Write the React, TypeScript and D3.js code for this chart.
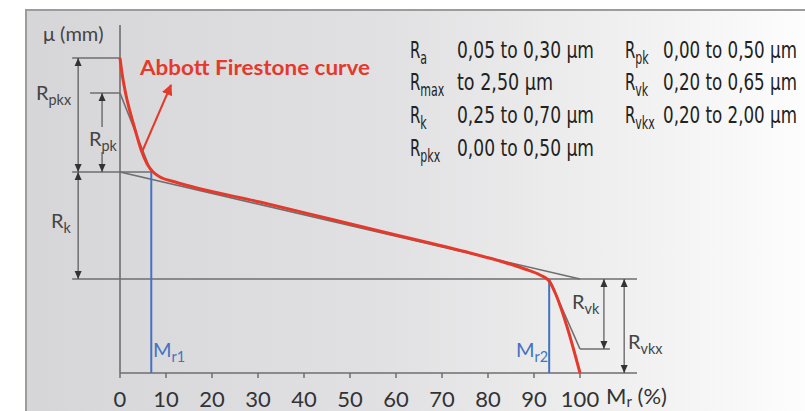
import React, { useEffect, useRef } from 'react';
import * as d3 from 'd3';

// bearing ratio (Abbott Firestone) curve, material ratio in % vs. height level
const curvePct = [0, 0.43, 1.3, 2.2, 3.3, 4.6, 5.9, 7.2, 8.7, 12.0, 15.9, 30.4, 45.7, 60.9, 76.1, 82.6, 88.0, 91.3, 93.3, 94.8, 97.2, 100];
const curveLevel = [3.15, 3.0, 2.78, 2.61, 2.43, 2.23, 2.09, 2.01, 1.96, 1.91, 1.86, 1.71, 1.54, 1.37, 1.2, 1.12, 1.04, 0.98, 0.92, 0.78, 0.46, 0];
const pctTicks = [0, 10, 20, 30, 40, 50, 60, 70, 80, 90, 100];

// characteristic levels
const levelTop = 3.15;
const levelRpk = 2.8;
const levelRkTop = 2.01;
const levelRkBottom = 0.94;
const levelRvk = 0.24;
const mr1 = 6.8;
const mr2 = 93.3;

// spec table
const specNames = ['a', 'max', 'k', 'pkx', 'pk', 'vk', 'vkx'];
const specValues = ['0,05 to 0,30 µm', 'to 2,50 µm', '0,25 to 0,70 µm', '0,00 to 0,50 µm', '0,00 to 0,50 µm', '0,20 to 0,65 µm', '0,20 to 2,00 µm'];

const W = 805;
const H = 411;
const grey = '#6e6e6e';
const red = '#e5392b';
const blue = '#4472c0';
const labelFont = 'Lato, "DejaVu Sans", sans-serif';
const condFont = '"Liberation Sans Narrow", "DejaVu Sans Condensed", "DejaVu Sans", sans-serif';

const x = d3.scaleLinear().domain([0, 100]).range([120, 580]);
const y = d3.scaleLinear().domain([0, 3.5]).range([373, 23]);

const arrowHead = (px: number, py: number, up: boolean) => {
  const d = up ? 8 : -8;
  return `M${px},${py} L${px - 3.5},${py + d} L${px + 3.5},${py + d} Z`;
};

const Sub = ({ x0, y0, main, sub, fill, size = 20 }: any) => (
  <text x={x0} y={y0} fontFamily={labelFont} fontSize={size} fill={fill}>
    {main}
    <tspan fontSize={size * 0.72} dy={5}>{sub}</tspan>
  </text>
);

export default function App() {
  const svgRef = useRef<SVGSVGElement>(null);

  // squeeze the spec values to the condensed width of the original
  useEffect(() => {
    d3.select(svgRef.current)
      .selectAll<SVGTextElement, unknown>('.spec-val')
      .each(function () {
        const el = d3.select(this);
        const w = this.getComputedTextLength();
        const target = +el.attr('data-len');
        const k = w > 0 ? target / w : 0.72;
        el.attr('transform', `translate(${el.attr('data-x')},${el.attr('data-y')}) scale(${k},1)`);
      });
  }, []);

  const pts = curvePct.map((p, i) => [p, curveLevel[i]] as [number, number]);
  const line = d3
    .line<[number, number]>()
    .x((d) => x(d[0]))
    .y((d) => y(d[1]))
    .curve(d3.curveMonotoneX);

  const hl = (l: number, p0: number, p1: number) => (
    <line x1={x(p0)} x2={x(p1)} y1={y(l)} y2={y(l)} stroke={grey} strokeWidth={1.5} />
  );
  const vArrow = (p: number, l0: number, l1: number, gap?: [number, number]) => (
    <g>
      {gap ? (
        <>
          <line x1={x(p)} x2={x(p)} y1={y(l0)} y2={gap[0]} stroke="#555" strokeWidth={1.2} />
          <line x1={x(p)} x2={x(p)} y1={gap[1]} y2={y(l1)} stroke="#555" strokeWidth={1.2} />
        </>
      ) : (
        <line x1={x(p)} x2={x(p)} y1={y(l0)} y2={y(l1)} stroke="#555" strokeWidth={1.2} />
      )}
      <path d={arrowHead(x(p), y(l0), true)} fill="#333" />
      <path d={arrowHead(x(p), y(l1), false)} fill="#333" />
    </g>
  );

  const rowY = [58, 90, 123, 156];
  const specPos = specNames.map((_, i) =>
    i < 4 ? { rx: 410, vx: 457, by: rowY[i], len: 137 } : { rx: 625, vx: 663, by: rowY[i - 4], len: 134 }
  );

  return (
    <svg ref={svgRef} width={W} height={H} style={{ position: 'absolute', left: 0, top: 0 }}>
      <defs>
        <linearGradient id="bg" x1="0" x2="1" y1="0" y2="0">
          <stop offset="0" stopColor="#d6d6d8" />
          <stop offset="0.45" stopColor="#e1e1e3" />
          <stop offset="0.8" stopColor="#f3f3f3" />
          <stop offset="1" stopColor="#ffffff" />
        </linearGradient>
        <marker id="head" viewBox="0 0 10 10" refX="9" refY="5" markerWidth="11" markerHeight="11" markerUnits="userSpaceOnUse" orient="auto">
          <path d="M0,0 L10,5 L0,10 Z" fill={red} />
        </marker>
      </defs>
      <rect x={0} y={0} width={W} height={H} fill="#fff" />
      <rect x={26} y={10} width={W} height={H} fill="url(#bg)" stroke="#9c9c9c" strokeWidth={2} />

      {/* guide lines */}
      {hl(levelTop, -10.4, 0)}
      {hl(levelRpk, -6.5, 0)}
      {hl(levelRkTop, -10.4, mr1)}
      {hl(levelRkBottom, -10.4, 112.4)}
      {hl(levelRvk, 100, 106.5)}

      {/* equivalent straight line and triangles */}
      <line x1={x(0)} y1={y(levelRkTop)} x2={x(100)} y2={y(levelRkBottom)} stroke={grey} strokeWidth={1.6} />
      <line x1={x(0)} y1={y(levelRpk)} x2={x(mr1)} y2={y(levelRkTop)} stroke={grey} strokeWidth={1.6} />
      <line x1={x(mr2)} y1={y(levelRkBottom)} x2={x(100)} y2={y(levelRvk)} stroke={grey} strokeWidth={1.6} />

      {/* axes */}
      <line x1={x(0)} x2={x(0)} y1={y(3.48)} y2={y(0)} stroke={grey} strokeWidth={1.6} />
      <line x1={x(0)} x2={x(112.4)} y1={y(0)} y2={y(0)} stroke={grey} strokeWidth={1.6} />
      {pctTicks.map((t) => (
        <g key={t}>
          <line x1={x(t)} x2={x(t)} y1={y(0)} y2={y(0) + 5} stroke={grey} strokeWidth={1.5} />
          <text x={x(t)} y={407} textAnchor="middle" fontFamily={labelFont} fontSize={22} fill="#333">
            {t}
          </text>
        </g>
      ))}
      <text x={606} y={404} fontFamily={labelFont} fontSize={22} fill="#333">
        M<tspan fontSize={15} dy={3}>r</tspan>
        <tspan dy={-3}> (%)</tspan>
      </text>
      <text x={43} y={41} fontFamily={labelFont} fontSize={20} fill="#444">μ (mm)</text>

      {/* dimension arrows */}
      {vArrow(-9.1, levelTop, levelRkTop)}
      {vArrow(-9.1, levelRkTop, levelRkBottom)}
      {vArrow(-3.9, levelRpk, levelRkTop, [127, 152])}
      {vArrow(105.2, levelRkBottom, levelRvk)}
      {vArrow(109.6, levelRkBottom, 0)}

      <Sub x0={36} y0={100} main="R" sub="pkx" fill="#444" />
      <Sub x0={89} y0={146} main="R" sub="pk" fill="#444" />
      <Sub x0={51} y0={228} main="R" sub="k" fill="#444" />
      <Sub x0={572} y0={309} main="R" sub="vk" fill="#444" />
      <Sub x0={628} y0={349} main="R" sub="vkx" fill="#444" />

      {/* material ratio markers */}
      <line x1={x(mr1)} x2={x(mr1)} y1={y(levelRkTop)} y2={y(0)} stroke={blue} strokeWidth={2} />
      <line x1={x(mr2)} x2={x(mr2)} y1={y(levelRkBottom)} y2={y(0)} stroke={blue} strokeWidth={2} />
      <Sub x0={153} y0={357} main="M" sub="r1" fill={blue} />
      <Sub x0={516} y0={357} main="M" sub="r2" fill={blue} />

      {/* curve */}
      <path d={line(pts) ?? ''} fill="none" stroke={red} strokeWidth={3} strokeLinejoin="round" />
      <line x1={142} y1={152} x2={171} y2={85} stroke={red} strokeWidth={2} markerEnd="url(#head)" />
      <text x={140} y={75} fontFamily={labelFont} fontWeight={700} fontSize={20} fill={red} textLength={230} lengthAdjust="spacingAndGlyphs">
        Abbott Firestone curve
      </text>

      {/* spec table */}
      {specNames.map((s, i) => {
        const p = specPos[i];
        return (
          <g key={s} fill="#222" fontFamily={condFont}>
            <text transform={`translate(${p.rx},${p.by}) scale(0.72,1)`} fontSize={23}>
              R<tspan fontSize={17} dy={6}>{s}</tspan>
            </text>
            <text
              className="spec-val"
              data-x={p.vx}
              data-y={p.by}
              data-len={s === 'max' ? 96 : p.len}
              transform={`translate(${p.vx},${p.by}) scale(0.72,1)`}
              fontSize={23}
            >
              {specValues[i]}
            </text>
          </g>
        );
      })}
    </svg>
  );
}
